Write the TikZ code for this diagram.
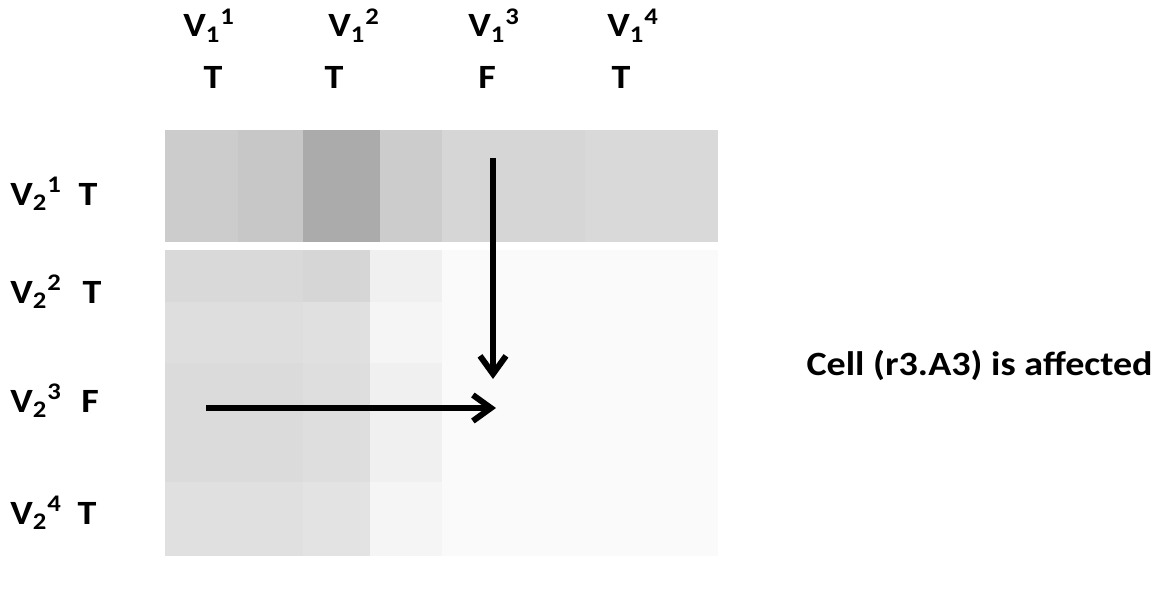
\documentclass[tikz,border=0pt]{standalone}
\usepackage{fontspec}
\setmainfont[FakeStretch=1.12]{Carlito}
\usepackage{tikz}
\usetikzlibrary{arrows.meta}
\definecolor{inkblack}{HTML}{000000}
\tikzset{
  >={Straight Barb[length=9pt, width=13pt]},
  every node/.style={font=\fontsize{17}{20}\selectfont\bfseries, inner sep=0pt, inkblack},
  varlabel/.style={anchor=base west},
  truthlabel/.style={anchor=base},
  notelabel/.style={anchor=base east},
  hitarrow/.style={->, line width=3pt, inkblack}
}

\begin{document}
\begin{tikzpicture}[x=0.5pt, y=-0.5pt]
\useasboundingbox (0,0) rectangle (1169,594);

% Shaded matrix, top band (row 1)
\foreach \xa/\xb/\shade in {165/238/20, 238/303/22, 303/380/33, 380/442/20, 442/585/16, 585/718/15}
  \fill[black!\shade] (\xa,130) rectangle (\xb,242);

% Shaded matrix, lower rows
\foreach \xa/\xb/\ya/\yb/\shade in {
  165/303/250/302/15, 165/303/302/363/13, 165/303/363/482/14, 165/303/482/556/12,
  303/370/250/302/16, 303/370/302/363/12, 303/370/363/482/13, 303/370/482/556/11,
  370/442/250/302/6, 370/442/302/363/4, 370/442/363/482/6, 370/442/482/556/4,
  442/718/250/556/2}
  \fill[black!\shade] (\xa,\ya) rectangle (\xb,\yb);

% Column labels (V1)
\node[varlabel] (v1a) at (183,37) {V\textsubscript{1}\textsuperscript{1}};
\node[varlabel] (v1b) at (328,37) {V\textsubscript{1}\textsuperscript{2}};
\node[varlabel] (v1c) at (468,37) {V\textsubscript{1}\textsuperscript{3}};
\node[varlabel] (v1d) at (607,37) {V\textsubscript{1}\textsuperscript{4}};
\node[truthlabel] (t1a) at (213,88) {T};
\node[truthlabel] (t1b) at (334,88) {T};
\node[truthlabel] (t1c) at (487,88) {F};
\node[truthlabel] (t1d) at (621,88) {T};

% Row labels (V2)
\node[varlabel] (v2a) at (10,205) {V\textsubscript{2}\textsuperscript{1}};
\node[varlabel] (v2b) at (10,303) {V\textsubscript{2}\textsuperscript{2}};
\node[varlabel] (v2c) at (10,412) {V\textsubscript{2}\textsuperscript{3}};
\node[varlabel] (v2d) at (10,524) {V\textsubscript{2}\textsuperscript{4}};
\node[truthlabel] (t2a) at (88,205) {T};
\node[truthlabel] (t2b) at (92,303) {T};
\node[truthlabel] (t2c) at (90,412) {F};
\node[truthlabel] (t2d) at (87,524) {T};

% Affected cell
\coordinate (colstart) at (493,158);
\coordinate (colhit) at (493,379);
\coordinate (rowstart) at (206,408);
\coordinate (rowhit) at (496,408);
\draw[hitarrow] (colstart) -- (colhit);
\draw[hitarrow] (rowstart) -- (rowhit);

\node[notelabel] (note) at (1153,375) {Cell (r3.A3) is affected};

\end{tikzpicture}
\end{document}
